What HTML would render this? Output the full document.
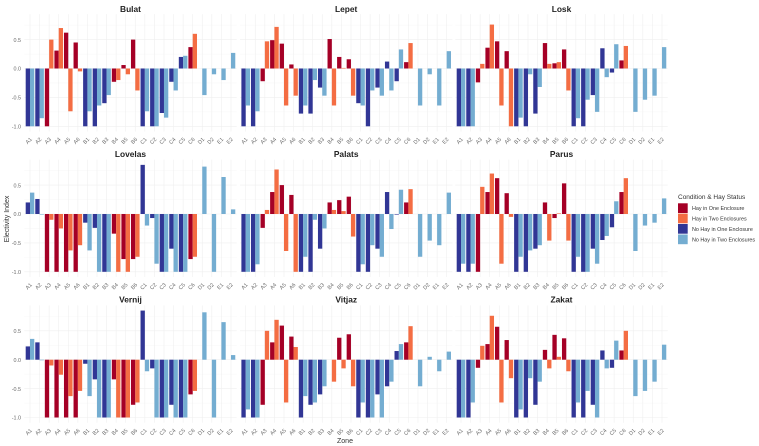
<!DOCTYPE html>
<html lang="en">
<head>
<meta charset="utf-8">
<title>Electivity Index by Zone</title>
<style>
html,body{margin:0;padding:0;background:#fff;}
svg{display:block;font-family:"Liberation Sans",sans-serif;}
</style>
</head>
<body>
<svg id="chart" width="759" height="446" viewBox="0 0 759 446" xmlns="http://www.w3.org/2000/svg">
  <rect width="759" height="446" fill="#ffffff"/>
  <text transform="translate(9,219) rotate(-90)" text-anchor="middle" font-size="7" fill="#333">Electivity Index</text>
  <text x="345" y="443" text-anchor="middle" font-size="7" fill="#333">Zone</text>
  <g>
    <text x="678" y="199" font-size="6.5" fill="#333">Condition &amp; Hay Status</text>
    <rect x="678" y="203.3" width="9.7" height="9.7" fill="#a50026"/>
    <text x="692" y="210.2" font-size="5.4" fill="#333">Hay in One Enclosure</text>
    <rect x="678" y="213.6" width="9.7" height="9.7" fill="#f46d43"/>
    <text x="692" y="220.5" font-size="5.4" fill="#333">Hay in Two Enclosures</text>
    <rect x="678" y="224" width="9.7" height="9.7" fill="#313695"/>
    <text x="692" y="230.9" font-size="5.4" fill="#333">No Hay in One Enclosure</text>
    <rect x="678" y="234.5" width="9.7" height="9.7" fill="#74add1"/>
    <text x="692" y="241.4" font-size="5.4" fill="#333">No Hay in Two Enclosures</text>
  </g>
</svg>
<script>
const zones = ["A1","A2","A3","A4","A5","A6","B1","B2","B3","B4","B5","B6","C1","C2","C3","C4","C5","C6","D1","D2","E1","E2"];
const hayZones = ["A3","A4","A5","A6","B4","B5","B6","C6"];
const yTicks = [-1, -0.5, 0, 0.5];
const yMinorTicks = [-0.75, -0.25, 0.25, 0.75];
const panelNames = ["Bulat","Lepet","Losk","Lovelas","Palats","Parus","Vernij","Vitjaz","Zakat"];

const bulatOne = [-1,-1,-1,0.31,0.62,0.45,-1,-1,-0.6,-0.23,0.06,0.5,-1,-1,-0.77,-0.23,0.2,0.37,null,null,null,null];
const bulatTwo = [-1,-0.86,0.5,0.7,-0.74,-0.05,-0.74,-0.64,-0.46,-0.2,-0.1,-0.38,-0.74,-1,-0.85,-0.38,0.22,0.6,-0.46,-0.1,-0.2,0.27];
const lepetOne = [-1,-1,-0.22,0.49,0.43,0.07,-0.78,-0.78,-0.33,0.51,0.2,0.16,-0.6,-1,-0.33,0.12,-0.22,0.11,null,null,null,null];
const lepetTwo = [-0.64,-0.74,0.47,0.72,-0.64,-0.47,-0.64,-0.2,-0.47,-0.64,0.01,-0.47,-0.64,-0.38,-0.47,-0.38,0.33,0.44,-0.64,-0.1,-0.64,0.3];
const loskOne = [-1,-1,-0.24,0.36,0.47,0.3,-1,-1,-0.78,0.44,0.09,0.33,-1,-1,-0.46,0.35,-0.07,0.14,null,null,null,null];
const loskTwo = [-1,-1,0.08,0.76,-0.64,-1,-0.85,-0.1,-0.32,0.08,0.11,-0.38,-0.86,-0.54,-0.75,-0.15,0.42,0.39,-0.75,-0.54,-0.47,0.37];
const lovelasOne = [0.2,0.26,-1,-1,-1,-1,-0.15,-0.24,-1,-0.34,-0.78,-0.78,0.85,-0.07,-1,-0.6,-1,-0.78,null,null,null,null];
const lovelasTwo = [0.37,-0.01,-0.1,-0.25,-0.63,-0.54,-0.63,-1,-1,-1,-1,-0.74,-0.2,-0.86,-1,-1,-1,-0.74,0.82,-1,0.64,0.08];
const palatsOne = [-1,-1,-0.24,0.38,0.5,0.33,-1,-1,-0.6,0.2,0.24,0.3,-1,-1,-0.6,0.38,-0.01,0.2,null,null,null,null];
const palatsTwo = [-1,-0.87,0.07,0.77,-0.64,-1,-0.74,-0.1,-0.25,0.07,0.05,-0.39,-0.87,-0.54,-0.74,-0.26,0.42,0.43,-0.74,-0.46,-0.54,0.37];
const parusOne = [-1,-1,-1,0.38,0.62,0.36,-1,-1,-0.6,0.2,-0.07,0.53,-1,-1,-0.6,-0.45,-0.23,0.38,null,null,null,null];
const parusTwo = [-0.86,-0.86,0.47,0.7,-0.86,-0.05,-0.74,-0.63,-0.54,-0.46,0.01,-0.46,-0.74,-1,-0.86,-0.38,0.22,0.62,-0.64,-0.2,-0.15,0.27];
const vernijOne = [0.23,0.3,-1,-1,-1,-1,-0.07,-0.34,-1,-0.34,-1,-0.78,0.85,-0.15,-1,-0.78,-1,-0.6,null,null,null,null];
const vernijTwo = [0.36,-0.01,-0.1,-0.26,-0.63,-0.54,-0.63,-1,-1,-1,-1,-0.74,-0.2,-1,-1,-1,-1,-0.54,0.82,-1,0.65,0.08];
const vitjazOne = [-1,-1,-0.78,0.3,0.59,0.4,-1,-0.78,-0.6,0,0.38,0.44,-1,-1,-0.6,-0.46,0.15,0.3,null,null,null,null];
const vitjazTwo = [-0.86,-1,0.5,0.69,-0.74,0.22,-0.63,-0.74,-0.46,-0.38,-0.15,-0.46,-0.74,-1,-1,-0.38,0.27,0.58,-0.46,0.05,-0.2,0.14];
const zakatOne = [-1,-1,-0.14,0.27,0.57,0.34,-1,-1,-0.78,0.17,0.43,0.37,-1,-1,-0.78,0.16,-0.14,0.16,null,null,null,null];
const zakatTwo = [-1,-0.74,0.24,0.76,-0.74,-0.32,-0.86,-0.32,-0.38,-0.15,0.05,-0.2,-0.74,-0.54,-1,-0.15,0.33,0.5,-0.63,-0.54,-0.38,0.26];

const seriesOne = [bulatOne, lepetOne, loskOne, lovelasOne, palatsOne, parusOne, vernijOne, vitjazOne, zakatOne];
const seriesTwo = [bulatTwo, lepetTwo, loskTwo, lovelasTwo, palatsTwo, parusTwo, vernijTwo, vitjazTwo, zakatTwo];

const NS = "http://www.w3.org/2000/svg";
const svg = document.getElementById("chart");
const colFirstCenter = [30, 245.7, 461];
const rowZero = [68.5, 214, 359.7];
const titleBaseline = [12, 157, 302.5];
const pitch = 9.57;
const unitY = 57.8;

function xPos(col, i) { return colFirstCenter[col] + i * pitch; }
function yPos(row, v) { return rowZero[row] - v * unitY; }

function make(tag, attrs, parent) {
  const el = document.createElementNS(NS, tag);
  for (const k in attrs) el.setAttribute(k, attrs[k]);
  parent.appendChild(el);
  return el;
}

function barColor(zone, second) {
  const hay = hayZones.includes(zone);
  if (hay) return second ? "#f46d43" : "#a50026";
  return second ? "#74add1" : "#313695";
}

panelNames.forEach(function (name, p) {
  const col = p % 3;
  const row = Math.floor(p / 3);
  const left = xPos(col, -0.6);
  const right = xPos(col, zones.length - 1 + 0.6);
  const top = yPos(row, 0.94);
  const bottom = yPos(row, -1.09);

  const panel = make("g", {}, svg);
  
  

  yMinorTicks.forEach(function (t) {
    const line = make("line", { x1: left, x2: right, y1: yPos(row, t), y2: yPos(row, t), stroke: "#f5f5f5", "stroke-width": 0.4 }, panel);
    
    
  });
  yTicks.forEach(function (t) {
    const line = make("line", { x1: left, x2: right, y1: yPos(row, t), y2: yPos(row, t), stroke: "#efefef", "stroke-width": 0.6 }, panel);
    
    
    if (col === 0) {
      const label = make("text", { x: 21, y: yPos(row, t) + 2.2, "text-anchor": "end", "font-size": 5.4, fill: "#6a6a6a" }, panel);
      
      
      label.textContent = t.toFixed(1);
    }
  });

  zones.forEach(function (zone, i) {
    const cx = xPos(col, i);
    const line = make("line", { x1: cx, x2: cx, y1: top, y2: bottom, stroke: "#efefef", "stroke-width": 0.6 }, panel);
    
    
    const label = make("text", { transform: "translate(" + cx + "," + (rowZero[row] + 73.5) + ") rotate(-45)", "text-anchor": "middle", "font-size": 5.4, fill: "#6a6a6a" }, panel);
    
    
    label.textContent = zone;
  });

  const barWidth = pitch * 0.45;
  const zeroY = yPos(row, 0);
  zones.forEach(function (zone, i) {
    const cx = xPos(col, i);
    const one = seriesOne[p][i];
    const two = seriesTwo[p][i];
    if (one !== null) {
      const y = yPos(row, one);
      const bar = make("rect", { x: cx - barWidth, y: Math.min(y, zeroY), width: barWidth, height: Math.abs(y - zeroY), fill: barColor(zone, false) }, panel);
      
      
    }
    if (two !== null) {
      const y = yPos(row, two);
      const bar = make("rect", { x: cx, y: Math.min(y, zeroY), width: barWidth, height: Math.abs(y - zeroY), fill: barColor(zone, true) }, panel);
      
      
    }
  });

  const title = make("text", { x: (left + right) / 2, y: titleBaseline[row], "text-anchor": "middle", "font-size": 8.4, "font-weight": "bold", fill: "#222" }, panel);
  
  
  title.textContent = name;
});
</script>
</body>
</html>
